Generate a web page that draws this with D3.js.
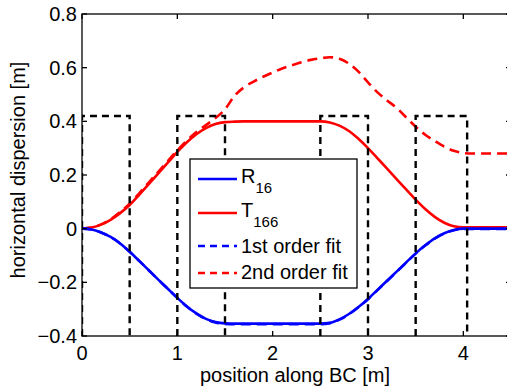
<!DOCTYPE html>
<html>
<head>
<meta charset="utf-8">
<script src="https://cdn.jsdelivr.net/npm/d3@7"></script>
<style>
  html, body { margin: 0; padding: 0; background: #fff; }
  svg { display: block; font-family: "Liberation Sans", Arial, Helvetica, sans-serif; }
</style>
</head>
<body>
<svg id="chart" width="507" height="392"></svg>
<script>
// Position along the bunch compressor [m]
const positions = [0, 0.1, 0.2, 0.3, 0.4, 0.5, 0.6, 0.7, 0.8, 0.9,
  1.0, 1.1, 1.2, 1.3, 1.4, 1.5, 1.6, 1.7, 1.8, 1.9,
  2.0, 2.1, 2.2, 2.3, 2.4, 2.5, 2.6, 2.7, 2.8, 2.9,
  3.0, 3.1, 3.2, 3.3, 3.4, 3.5, 3.6, 3.7, 3.8, 3.9,
  4.0, 4.1, 4.2, 4.3, 4.4, 4.5];

// First-order dispersion R16 [m]
const r16 = [0, -0.003, -0.014, -0.031, -0.055, -0.086, -0.120, -0.155, -0.190, -0.224,
  -0.258, -0.290, -0.316, -0.336, -0.348, -0.353, -0.354, -0.354, -0.354, -0.354,
  -0.354, -0.354, -0.354, -0.354, -0.354, -0.354, -0.351, -0.338, -0.318, -0.292,
  -0.262, -0.228, -0.194, -0.160, -0.126, -0.092, -0.062, -0.036, -0.017, -0.005,
  0, 0, 0, 0, 0, 0];

// Second-order dispersion T166 [m]
const t166 = [0, 0.004, 0.015, 0.033, 0.058, 0.088, 0.126, 0.166, 0.206, 0.246,
  0.286, 0.322, 0.352, 0.375, 0.390, 0.397, 0.399, 0.400, 0.400, 0.400,
  0.400, 0.400, 0.400, 0.400, 0.400, 0.400, 0.396, 0.384, 0.364, 0.335,
  0.300, 0.262, 0.224, 0.185, 0.146, 0.108, 0.073, 0.044, 0.022, 0.009,
  0.005, 0.005, 0.005, 0.005, 0.005, 0.005];

// 1st order fit
const fit1 = [0, -0.003, -0.014, -0.031, -0.055, -0.086, -0.120, -0.155, -0.190, -0.224,
  -0.258, -0.290, -0.317, -0.337, -0.350, -0.355, -0.356, -0.356, -0.356, -0.356,
  -0.356, -0.356, -0.356, -0.356, -0.356, -0.356, -0.352, -0.339, -0.319, -0.293,
  -0.263, -0.229, -0.195, -0.161, -0.127, -0.093, -0.063, -0.037, -0.018, -0.006,
  -0.001, -0.001, -0.001, -0.001, -0.001, -0.001];

// 2nd order fit
const fit2 = [0, 0.004, 0.016, 0.035, 0.062, 0.093, 0.132, 0.172, 0.212, 0.252,
  0.292, 0.328, 0.360, 0.386, 0.412, 0.445, 0.495, 0.527, 0.548, 0.566,
  0.582, 0.597, 0.609, 0.620, 0.629, 0.635, 0.639, 0.633, 0.615, 0.585,
  0.545, 0.508, 0.478, 0.450, 0.415, 0.380, 0.350, 0.327, 0.306, 0.290,
  0.282, 0.280, 0.280, 0.280, 0.280, 0.280];

// Dipole magnets: entrance and exit positions [m], outline height [m]
const magnetStart = [0, 1.0, 2.5, 3.5];
const magnetEnd = [0.5, 1.5, 3.0, 4.04];
const magnetHeight = 0.42;

const xTicks = [0, 1, 2, 3, 4];
const yTicks = [-0.4, -0.2, 0, 0.2, 0.4, 0.6, 0.8];
const yTickLabels = ["\u22120.4", "\u22120.2", "0", "0.2", "0.4", "0.6", "0.8"];

const legendLabels = [
  { main: "R", sub: "16" },
  { main: "T", sub: "166" },
  { main: "1st order fit", sub: "" },
  { main: "2nd order fit", sub: "" }
];

const svg = d3.select("#chart");
const plotLeft = 82, plotRight = 511, plotTop = 14, plotBottom = 336;

const x = d3.scaleLinear().domain([0, 4.5]).range([plotLeft, plotRight]);
const y = d3.scaleLinear().domain([-0.4, 0.8]).range([plotBottom, plotTop]);

svg.append("defs").append("clipPath").attr("id", "plotClip")
  .append("rect").attr("x", plotLeft).attr("y", plotTop)
  .attr("width", plotRight - plotLeft).attr("height", plotBottom - plotTop);

const plot = svg.append("g").attr("clip-path", "url(#plotClip)");

const line = (vals) => d3.line()
  .x((d, i) => x(positions[i]))
  .y(d => y(d))
  .curve(d3.curveMonotoneX)(vals);

const series = [
  { vals: fit2, color: "#ff0000", dash: "10,6" },
  { vals: t166, color: "#ff0000", dash: null },
  { vals: r16, color: "#0000ff", dash: null },
  { vals: fit1, color: "#0000ff", dash: "10,6" }
];

series.forEach(s => {
  plot.append("path")
    .attr("d", line(s.vals))
    .attr("fill", "none")
    .attr("stroke", s.color)
    .attr("stroke-width", 2.6)
    .attr("stroke-dasharray", s.dash);
});

// Magnet outlines as dashed boxes
const magnetPath = d3.path();
magnetStart.forEach((s, i) => {
  magnetPath.moveTo(x(s), y(-0.4));
  magnetPath.lineTo(x(s), y(magnetHeight));
  magnetPath.lineTo(x(magnetEnd[i]), y(magnetHeight));
  magnetPath.lineTo(x(magnetEnd[i]), y(-0.4));
});
plot.append("path")
  .attr("d", magnetPath.toString())
  .attr("fill", "none")
  .attr("stroke", "#000")
  .attr("stroke-width", 2.4)
  .attr("stroke-dasharray", "7,5");

// Axes box with inward ticks on all sides
const axes = svg.append("g");
const tickLen = 5;
axes.append("rect")
  .attr("x", plotLeft).attr("y", plotTop)
  .attr("width", plotRight - plotLeft).attr("height", plotBottom - plotTop)
  .attr("fill", "none").attr("stroke", "#000").attr("stroke-width", 1.3);

yTicks.forEach(v => {
  axes.append("line").attr("x1", plotLeft).attr("x2", plotLeft + tickLen)
    .attr("y1", y(v)).attr("y2", y(v)).attr("stroke", "#000").attr("stroke-width", 1.3);
  axes.append("line").attr("x1", plotRight).attr("x2", plotRight - tickLen)
    .attr("y1", y(v)).attr("y2", y(v)).attr("stroke", "#000").attr("stroke-width", 1.3);
});
xTicks.forEach(v => {
  axes.append("line").attr("x1", x(v)).attr("x2", x(v))
    .attr("y1", plotBottom).attr("y2", plotBottom - tickLen).attr("stroke", "#000").attr("stroke-width", 1.3);
  axes.append("line").attr("x1", x(v)).attr("x2", x(v))
    .attr("y1", plotTop).attr("y2", plotTop + tickLen).attr("stroke", "#000").attr("stroke-width", 1.3);
});

axes.selectAll("text.ytick").data(yTicks).enter().append("text")
  .attr("class", "ytick")
  .attr("x", plotLeft - 5)
  .attr("y", d => y(d) + 7)
  .attr("text-anchor", "end")
  .attr("font-size", 20)
  .text((d, i) => yTickLabels[i]);

axes.selectAll("text.xtick").data(xTicks).enter().append("text")
  .attr("class", "xtick")
  .attr("x", d => x(d))
  .attr("y", 360)
  .attr("text-anchor", "middle")
  .attr("font-size", 20)
  .text(d => String(d));

svg.append("text")
  .attr("x", 295).attr("y", 382)
  .attr("text-anchor", "middle")
  .attr("font-size", 20)
  .text("position along BC [m]");

svg.append("text")
  .attr("transform", "translate(25,170) rotate(-90)")
  .attr("text-anchor", "middle")
  .attr("font-size", 20)
  .text("horizontal dispersion [m]");

// Legend
const legend = svg.append("g");
legend.append("rect")
  .attr("x", 190).attr("y", 159).attr("width", 167).attr("height", 129)
  .attr("fill", "#fff").attr("stroke", "#000").attr("stroke-width", 1.3);

const legendRows = [
  { y: 179, color: "#0000ff", dash: null, base: 182.5 },
  { y: 213, color: "#ff0000", dash: null, base: 216.5 },
  { y: 246, color: "#0000ff", dash: "7,5", base: 252.5 },
  { y: 273, color: "#ff0000", dash: "7,5", base: 279 }
];

legendRows.forEach((r, i) => {
  legend.append("line")
    .attr("x1", 198).attr("x2", 237)
    .attr("y1", r.y).attr("y2", r.y)
    .attr("stroke", r.color).attr("stroke-width", 2.4)
    .attr("stroke-dasharray", r.dash);
  const t = legend.append("text")
    .attr("x", 241).attr("y", r.base)
    .attr("font-size", 20);
  t.append("tspan").text(legendLabels[i].main);
  if (legendLabels[i].sub) {
    t.append("tspan")
      .attr("dy", 10)
      .attr("font-size", 15)
      .text(legendLabels[i].sub);
  }
});
</script>
</body>
</html>
